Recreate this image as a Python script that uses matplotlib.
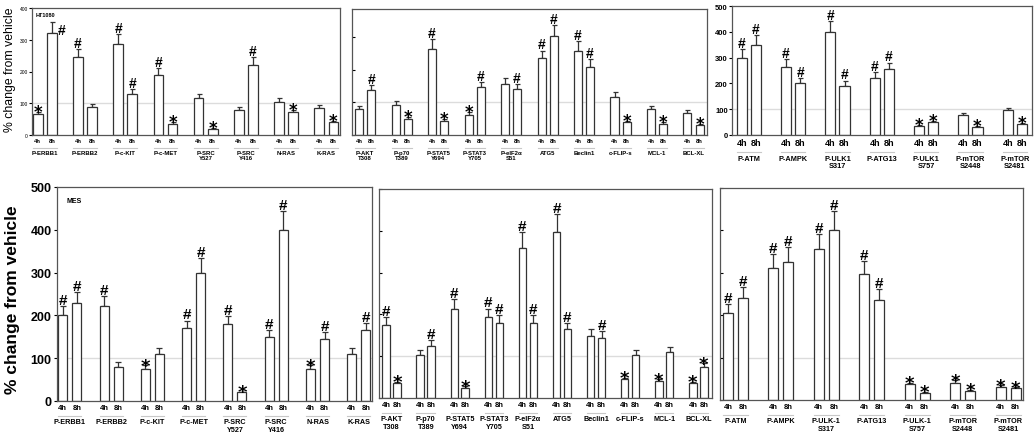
import matplotlib
matplotlib.use('Agg')
import matplotlib.pyplot as plt
import matplotlib.transforms as mtrans
import numpy as np

plt.rcParams['font.family'] = ['Liberation Sans', 'DejaVu Sans']

# ---- HT1080, top row ----
ht_rtk_names = ['P-ERBB1', 'P-ERBB2', 'P-c-KIT', 'P-c-MET', 'P-SRC\nY527', 'P-SRC\nY416', 'N-RAS', 'K-RAS']
ht_rtk_4h = [65, 247, 287, 190, 116, 80, 105, 85]
ht_rtk_4h_err = [8, 23, 31, 22, 13, 9, 13, 9]
ht_rtk_8h = [320, 89, 129, 36, 20, 221, 71, 40]
ht_rtk_8h_err = [37, 10, 17, 4, 3, 24, 9, 4]
ht_rtk_4h_sig = ['*', '#', '#', '#', '', '', '', '']
ht_rtk_8h_sig = ['#', '', '#', '*', '*', '#', '*', '*']

ht_sig_names = ['P-AKT\nT308', 'P-p70\nT389', 'P-STAT5\nY694', 'P-STAT3\nY705', 'P-eIF2α\nS51',
                'ATG5', 'Beclin1', 'c-FLIP-s', 'MCL-1', 'BCL-XL']
ht_sig_4h = [80, 92, 263, 62, 156, 234, 258, 116, 79, 66]
ht_sig_4h_err = [8, 13, 29, 9, 17, 24, 28, 14, 9, 10]
ht_sig_8h = [137, 48, 43, 146, 142, 302, 209, 39, 35, 31]
ht_sig_8h_err = [15, 6, 6, 15, 14, 33, 22, 4, 4, 4]
ht_sig_4h_sig = ['', '', '#', '*', '', '#', '#', '', '', '']
ht_sig_8h_sig = ['#', '*', '*', '#', '#', '#', '#', '*', '*', '*']

ht_atg_names = ['P-ATM', 'P-AMPK', 'P-ULK1\nS317', 'P-ATG13', 'P-ULK1\nS757', 'P-mTOR\nS2448', 'P-mTOR\nS2481']
ht_atg_4h = [300, 265, 400, 220, 35, 77, 95]
ht_atg_4h_err = [32, 28, 43, 25, 3, 7, 10]
ht_atg_8h = [350, 200, 188, 254, 49, 32, 42]
ht_atg_8h_err = [37, 21, 23, 27, 6, 3, 3]
ht_atg_4h_sig = ['#', '#', '#', '#', '*', '', '']
ht_atg_8h_sig = ['#', '#', '#', '#', '*', '*', '*']

# ---- MES, bottom row ----
mes_rtk_names = ht_rtk_names
mes_rtk_4h = [200, 221, 75, 170, 180, 150, 75, 110]
mes_rtk_4h_err = [22, 24, 9, 18, 19, 16, 9, 13]
mes_rtk_8h = [230, 80, 110, 300, 20, 400, 145, 166]
mes_rtk_8h_err = [25, 10, 13, 34, 2, 44, 16, 17]
mes_rtk_4h_sig = ['#', '#', '*', '#', '#', '#', '*', '']
mes_rtk_8h_sig = ['#', '', '', '#', '*', '#', '#', '#']

mes_sig_names = ht_sig_names
mes_sig_4h = [175, 104, 213, 194, 358, 398, 149, 46, 40, 35]
mes_sig_4h_err = [19, 12, 24, 20, 38, 43, 17, 3, 5, 4]
mes_sig_8h = [36, 125, 25, 179, 179, 164, 144, 104, 110, 75]
mes_sig_8h_err = [3, 13, 3, 20, 20, 16, 16, 12, 12, 8]
mes_sig_4h_sig = ['#', '', '#', '#', '#', '#', '', '*', '*', '*']
mes_sig_8h_sig = ['*', '#', '*', '#', '#', '#', '#', '', '', '*']

mes_atg_names = ['P-ATM', 'P-AMPK', 'P-ULK-1\nS317', 'P-ATG13', 'P-ULK-1\nS757', 'P-mTOR\nS2448', 'P-mTOR\nS2481']
mes_atg_4h = [206, 312, 357, 296, 38, 41, 31]
mes_atg_4h_err = [20, 32, 35, 32, 3, 5, 4]
mes_atg_8h = [241, 326, 402, 236, 17, 21, 28]
mes_atg_8h_err = [26, 35, 43, 25, 2, 3, 2]
mes_atg_4h_sig = ['#', '#', '#', '#', '*', '*', '*']
mes_atg_8h_sig = ['#', '#', '#', '#', '*', '*', '*']

W, H = 1035, 435
fig = plt.figure(figsize=(W / 100, H / 100), dpi=100)


def box(x0, y0, x1, y1):
    return [x0 / W, 1 - y1 / H, (x1 - x0) / W, (y1 - y0) / H]


def panel(rect, names, v4, e4, v8, e8, s4, s8, ylim, xlim, off=0.17, bw=0.23,
          hsize=5, nsize=5, msize=10, big=False, beside=()):
    ax = fig.add_axes(rect)
    n = len(names)
    x = np.arange(n)
    ax.axhline(100, color='#dcdcdc', lw=1.0, zorder=0)
    for xs, v, e in ((x - off, v4, e4), (x + off, v8, e8)):
        ax.bar(xs, v, width=bw, color='white', edgecolor='#333333', lw=0.9, zorder=2)
        ax.errorbar(xs, v, yerr=[np.zeros(n), e], fmt='none', ecolor='#333333',
                    elinewidth=0.9, capsize=2.2 if big else 1.8, capthick=0.9, zorder=1)
    # significance marks
    for hr, xs, v, e, sg in (('4h', x - off, v4, e4, s4), ('8h', x + off, v8, e8, s8)):
        for i, (xi, vi, ei, m) in enumerate(zip(xs, v, e, sg)):
            if not m:
                continue
            top = vi + ei
            if m == '*':
                fs, fam, dy = msize * 1.2, 'DejaVu Sans', -0.30 * msize * 1.2
            else:
                fs, fam, dy = msize, 'Liberation Sans', 1.5
            if (i, hr) in beside:
                ax.annotate(m, (xi, vi + ei * 0.3), xytext=(7, 0), textcoords='offset points',
                            ha='center', va='center', fontsize=fs, fontweight='bold',
                            family=fam, annotation_clip=False)
            else:
                ax.annotate(m, (xi, top), xytext=(0, dy), textcoords='offset points',
                            ha='center', va='baseline', fontsize=fs, fontweight='bold',
                            family=fam, annotation_clip=False)
    ax.set_ylim(*ylim)
    ax.set_xlim(*xlim)
    ax.set_yticks(np.arange(0, ylim[1] + 1, 100))
    ticks = np.ravel(np.column_stack([x - off, x + off]))
    ax.set_xticks(ticks, ['4h', '8h'] * n)
    ax.tick_params(axis='x', length=0, pad=2, labelsize=hsize)
    for t in ax.get_xticklabels():
        t.set_fontweight('bold')
    blend = mtrans.blended_transform_factory(ax.transData, ax.transAxes)
    line_y = -(hsize * 1.55 + 2.5)
    ltr = mtrans.offset_copy(blend, fig=fig, y=line_y, units='points')
    for xi, name in zip(x, names):
        ax.plot([xi - off - bw / 2, xi + off + bw / 2], [0, 0], color='#c8c8c8', lw=0.8,
                transform=ltr, clip_on=False)
        ax.annotate(name, (xi, 0), xycoords=blend, xytext=(0, line_y - 1.5),
                    textcoords='offset points', ha='center', va='top', fontsize=nsize,
                    fontweight='bold', linespacing=1.15, annotation_clip=False)
    for sp in ax.spines.values():
        sp.set_color('#555555')
        sp.set_linewidth(0.9)
    return ax


# top row
a = panel(box(32, 9, 340, 136), ht_rtk_names, ht_rtk_4h, ht_rtk_4h_err, ht_rtk_8h, ht_rtk_8h_err,
          ht_rtk_4h_sig, ht_rtk_8h_sig, (0, 400), (-0.32, 7.34), off=0.175, bw=0.24,
          hsize=4.2, nsize=4.3, msize=10, beside=((0, '8h'),))
a.tick_params(axis='y', labelsize=3.5, length=2, pad=1)
a.text(0.012, 0.965, 'HT1080', transform=a.transAxes, fontsize=4, fontweight='bold', va='top')

b = panel(box(352, 10, 707, 136), ht_sig_names, ht_sig_4h, ht_sig_4h_err, ht_sig_8h, ht_sig_8h_err,
          ht_sig_4h_sig, ht_sig_8h_sig, (0, 385), (-0.36, 9.37), off=0.165, bw=0.22,
          hsize=4.2, nsize=4.3, msize=10)
b.tick_params(axis='y', direction='in', length=2, labelleft=False)

c = panel(box(732, 7, 1032, 136), ht_atg_names, ht_atg_4h, ht_atg_4h_err, ht_atg_8h, ht_atg_8h_err,
          ht_atg_4h_sig, ht_atg_8h_sig, (0, 500), (-0.38, 6.39), off=0.16, bw=0.23,
          hsize=6.5, nsize=5.3, msize=10)
c.tick_params(axis='y', labelsize=5.5, length=2, pad=1)
for t in c.get_yticklabels():
    t.set_fontweight('bold')

# bottom row
d = panel(box(57, 188, 372, 402), mes_rtk_names, mes_rtk_4h, mes_rtk_4h_err, mes_rtk_8h, mes_rtk_8h_err,
          mes_rtk_4h_sig, mes_rtk_8h_sig, (0, 500), (-0.31, 7.32), off=0.17, bw=0.22,
          hsize=5.5, nsize=5.2, msize=11, big=True)
d.tick_params(axis='y', labelsize=9, length=2, pad=2)
for t in d.get_yticklabels():
    t.set_fontweight('bold')
d.text(0.03, 0.955, 'MES', transform=d.transAxes, fontsize=5, fontweight='bold', va='top')

e = panel(box(379, 190, 712, 399), mes_sig_names, mes_sig_4h, mes_sig_4h_err, mes_sig_8h, mes_sig_8h_err,
          mes_sig_4h_sig, mes_sig_8h_sig, (0, 500), (-0.37, 9.4), off=0.16, bw=0.22,
          hsize=5.5, nsize=5.2, msize=11, big=True)
e.tick_params(axis='y', direction='in', length=2, labelleft=False)

f = panel(box(720, 189, 1023, 401), mes_atg_names, mes_atg_4h, mes_atg_4h_err, mes_atg_8h, mes_atg_8h_err,
          mes_atg_4h_sig, mes_atg_8h_sig, (0, 500), (-0.34, 6.33), off=0.165, bw=0.22,
          hsize=5.5, nsize=5.2, msize=11, big=True)
f.tick_params(axis='y', direction='in', length=2, labelleft=False)

fig.text(10 / W, 1 - 70 / H, '% change from vehicle', rotation=90, ha='center', va='center', fontsize=8.8)
fig.text(13 / W, 1 - 300 / H, '% change from vehicle', rotation=90, ha='center', va='center',
         fontsize=12.5, fontweight='bold')

fig.savefig('out.png', dpi=100)
